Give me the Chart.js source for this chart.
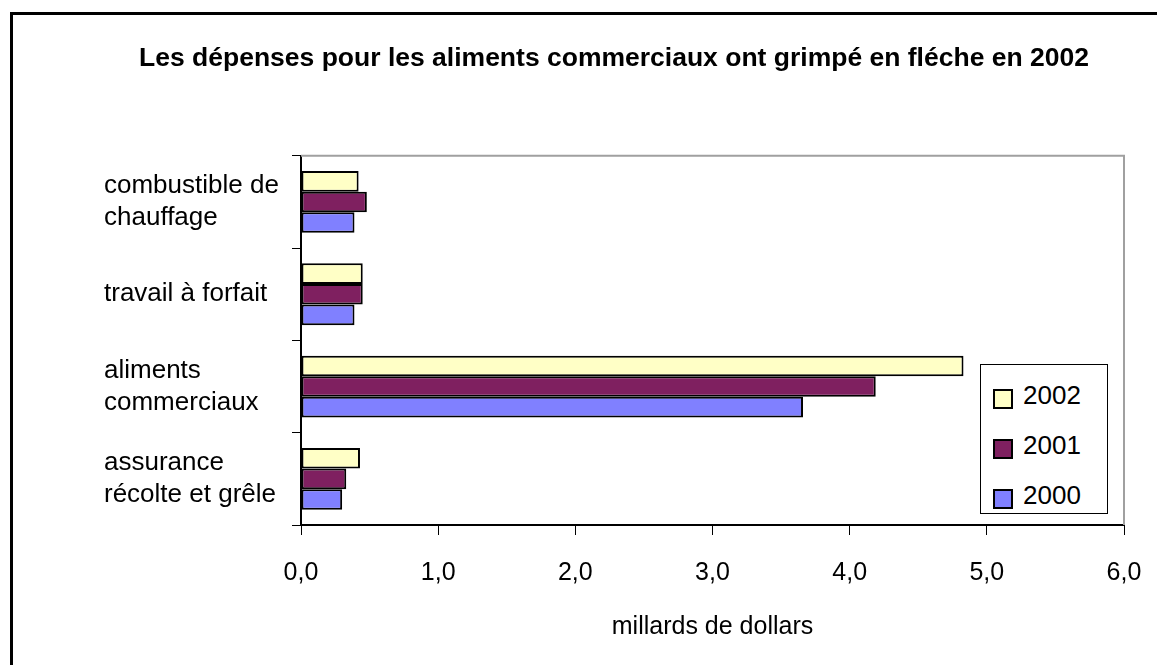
<!DOCTYPE html>
<html>
<head>
<meta charset="utf-8">
<script src="https://cdn.jsdelivr.net/npm/chart.js"></script>
<style>
    body { margin: 0; background: #fff; overflow: hidden; }
    #wrap { position: relative; width: 1157px; height: 665px; overflow: hidden; }
    #frame { position: absolute; left: 10px; top: 12px; width: 1200px; height: 700px; border: 3px solid #000; }
    #chartCanvas { position: absolute; left: 0; top: 0; }
    #legendBox {
        position: absolute; left: 980px; top: 364px; width: 126px; height: 148px;
        border: 1px solid #000; background: #fff;
        font-family: 'Liberation Sans', Arial, sans-serif; font-size: 26px; color: #000;
    }
    #legendBox .item { position: absolute; left: 12px; height: 30px; line-height: 30px; }
    #legendBox .swatch { position: absolute; left: 0; top: 5px; width: 16px; height: 16px; border: 2px solid #000; }
    #legendBox .txt { position: absolute; left: 30px; top: -4px; white-space: nowrap; }
</style>
</head>
<body>
<div id="wrap">
    <div id="frame"></div>
    <canvas id="chartCanvas" width="1157" height="665"></canvas>
    <div id="legendBox"></div>
</div>
<script>
    // categories, top to bottom
    const categories = [
        ['combustible de', 'chauffage'],
        'travail à forfait',
        ['aliments', 'commerciaux'],
        ['assurance', 'récolte et grêle']
    ];
    const years = ['2002', '2001', '2000'];
    // milliards de dollars
    const values2002 = [0.42, 0.45, 4.83, 0.43];
    const values2001 = [0.48, 0.45, 4.19, 0.33];
    const values2000 = [0.39, 0.39, 3.66, 0.30];
    const xTicks = [0, 1, 2, 3, 4, 5, 6];
    const colors = ['#FFFFC6', '#7F2060', '#8080FF'];

    Chart.defaults.font.family = "'Liberation Sans', Arial, sans-serif";
    Chart.defaults.color = '#000';

    // gray top + right edge of the plot area
    const plotFrame = {
        id: 'plotFrame',
        beforeDatasetsDraw(chart) {
            const a = chart.chartArea;
            const ctx = chart.ctx;
            ctx.save();
            ctx.strokeStyle = '#A0A0A0';
            ctx.lineWidth = 2;
            ctx.beginPath();
            ctx.moveTo(a.left, a.top);
            ctx.lineTo(a.right, a.top);
            ctx.lineTo(a.right, a.bottom);
            ctx.stroke();
            ctx.restore();
        }
    };

    const seriesValues = [values2002, values2001, values2000];
    const datasets = years.map((y, i) => ({
        label: y,
        data: seriesValues[i],
        backgroundColor: colors[i],
        borderColor: '#000',
        borderWidth: 2,
        borderSkipped: false,
        categoryPercentage: 0.67,
        barPercentage: 1.0
    }));

    const chart = new Chart(document.getElementById('chartCanvas'), {
        type: 'bar',
        data: { labels: categories, datasets: datasets },
        options: {
            indexAxis: 'y',
            responsive: false,
            animation: false,
            devicePixelRatio: 1,
            layout: { padding: { left: 104, right: 33, top: 0, bottom: 0 } },
            plugins: {
                legend: { display: false },
                tooltip: { enabled: false },
                title: {
                    display: true,
                    text: 'Les dépenses pour les aliments commerciaux ont grimpé en fléche en 2002',
                    font: { size: 26.5, weight: 'bold' },
                    padding: { top: 43, bottom: 81 }
                }
            },
            scales: {
                x: {
                    min: 0,
                    max: 6,
                    afterBuildTicks: (s) => { s.ticks = xTicks.map(v => ({ value: v })); },
                    afterFit: (s) => { s.height = 140; s.paddingLeft = 0; s.paddingRight = 0; },
                    ticks: {
                        font: { size: 25 },
                        padding: 23,
                        callback: (v) => Number(v).toFixed(1).replace('.', ',')
                    },
                    grid: { drawOnChartArea: false, tickLength: 10, color: '#000' },
                    border: { color: '#000', width: 2 },
                    title: {
                        display: true,
                        text: 'millards de dollars',
                        font: { size: 25 },
                        padding: { top: 0, bottom: 23 }
                    }
                },
                y: {
                    afterFit: (s) => { s.width = 197; },
                    ticks: {
                        font: { size: 26, lineHeight: 1.22 },
                        crossAlign: 'far'
                    },
                    grid: { drawOnChartArea: false, tickLength: 9, color: '#000', offset: true },
                    border: { color: '#000', width: 2 }
                }
            }
        },
        plugins: [plotFrame]
    });

    // legend box inside the plot, built from the datasets
    const legendBox = document.getElementById('legendBox');
    chart.data.datasets.forEach((ds, i) => {
        const item = document.createElement('div');
        item.className = 'item';
        item.style.top = (19 + i * 50) + 'px';
        item.innerHTML = '<span class="swatch" style="background:' + ds.backgroundColor + '"></span><span class="txt">' + ds.label + '</span>';
        legendBox.appendChild(item);
    });
</script>
</body>
</html>
